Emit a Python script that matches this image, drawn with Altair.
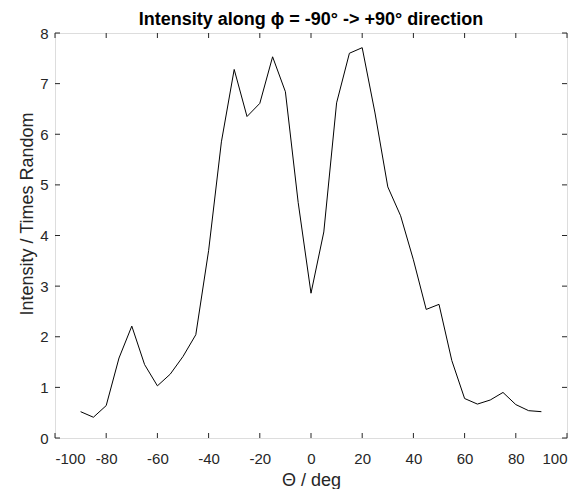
import altair as alt
import pandas as pd

theta = [-90, -85, -80, -75, -70, -65, -60, -55, -50, -45, -40, -35, -30, -25, -20, -15, -10, -5,
         0, 5, 10, 15, 20, 25, 30, 35, 40, 45, 50, 55, 60, 65, 70, 75, 80, 85, 90]
intensity = [0.52, 0.41, 0.64, 1.58, 2.21, 1.45, 1.03, 1.26, 1.61, 2.04, 3.70, 5.85, 7.28, 6.35, 6.61, 7.53, 6.84, 4.65,
             2.86, 4.07, 6.62, 7.60, 7.71, 6.42, 4.96, 4.39, 3.52, 2.54, 2.64, 1.53, 0.78, 0.67, 0.75, 0.90, 0.66, 0.54, 0.52]
x_ticks = [-100, -80, -60, -40, -20, 0, 20, 40, 60, 80, 100]
y_ticks = [0, 1, 2, 3, 4, 5, 6, 7, 8]

W, H = 512, 405
FONT = "Liberation Sans"
AX = "#262626"

df = pd.DataFrame({"theta": theta, "intensity": intensity})
xt = pd.DataFrame({"v": x_ticks})
yt = pd.DataFrame({"v": y_ticks})

xs = alt.Scale(domain=[-100, 100], nice=False, zero=False)
ys = alt.Scale(domain=[0, 8], nice=False)

line = alt.Chart(df).mark_line(color="black", strokeWidth=1).encode(
    x=alt.X("theta:Q", scale=xs, title="Θ / deg",
            axis=alt.Axis(values=x_ticks, tickSize=0, labelPadding=25, labelBaseline="alphabetic",
                          domain=False, grid=False, labelExpr="'' + datum.value",
                          labelFontSize=15, labelFont=FONT, labelColor=AX,
                          titleFontSize=18, titleFont=FONT, titleColor=AX, titleFontWeight="normal",
                          titleBaseline="alphabetic", titleY=47.5, titleX=W / 2)),
    y=alt.Y("intensity:Q", scale=ys, title="Intensity / Times Random",
            axis=alt.Axis(values=y_ticks, tickSize=0, labelPadding=7, domain=False, grid=False,
                          labelExpr="'' + datum.value",
                          labelFontSize=15, labelFont=FONT, labelColor=AX,
                          titleFontSize=18, titleFont=FONT, titleColor=AX, titleFontWeight="normal",
                          titleAngle=270, titleBaseline="alphabetic", titleAlign="center",
                          titleX=-23, titleY=180.5)),
)

tick_bottom = alt.Chart(xt).mark_rule(color=AX, strokeWidth=1).encode(
    x=alt.X("v:Q", scale=xs), y=alt.value(H), y2=alt.value(H - 5))
tick_top = alt.Chart(xt).mark_rule(color=AX, strokeWidth=1).encode(
    x=alt.X("v:Q", scale=xs), y=alt.value(0), y2=alt.value(5))
tick_left = alt.Chart(yt).mark_rule(color=AX, strokeWidth=1).encode(
    y=alt.Y("v:Q", scale=ys), x=alt.value(0), x2=alt.value(5))
tick_right = alt.Chart(yt).mark_rule(color=AX, strokeWidth=1).encode(
    y=alt.Y("v:Q", scale=ys), x=alt.value(W), x2=alt.value(W - 5))

chart = alt.layer(line, tick_bottom, tick_top, tick_left, tick_right).properties(
    width=W, height=H,
    title=alt.Title("Intensity along ϕ = -90° -> +90° direction", fontSize=18, font=FONT,
                    fontWeight="bold", color="black", anchor="middle", offset=7,
                    baseline="alphabetic", frame="group", dy=23.5),
    autosize=alt.AutoSizeParams(type="none"),
    padding={"left": 55, "top": 33, "right": 15, "bottom": 51},
).configure_view(stroke=AX, strokeWidth=1.5).configure(background="white")

chart.save("out.html", embed_options={"renderer": "svg", "actions": False})
